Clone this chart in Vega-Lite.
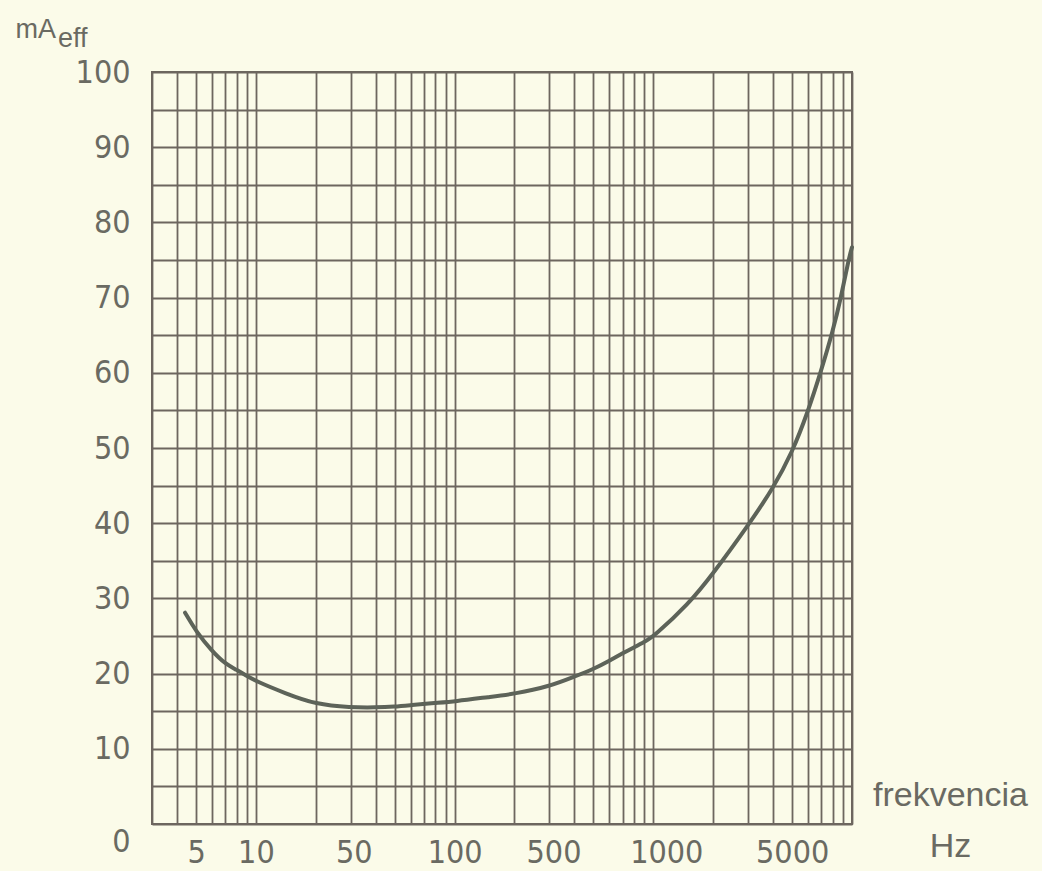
{
  "$schema": "https://vega.github.io/schema/vega-lite/v6.json",
  "autosize": "none",
  "width": 700,
  "height": 752,
  "padding": {"left": 152, "top": 72, "right": 190, "bottom": 47},
  "background": "#fbfbe9",
  "title": {
    "text": "eff",
    "anchor": "start",
    "frame": "group",
    "orient": "top",
    "offset": 0,
    "dx": -94,
    "dy": 59,
    "baseline": "alphabetic",
    "font": "Liberation Sans",
    "fontSize": 27,
    "fontWeight": "normal",
    "color": "#6a6a62"
  },
  "data": {
    "values": [
      {"freq": 4.4, "mA": 28.1},
      {"freq": 5, "mA": 25.6},
      {"freq": 6, "mA": 23.0},
      {"freq": 7, "mA": 21.3},
      {"freq": 8, "mA": 20.5},
      {"freq": 9, "mA": 19.7},
      {"freq": 10, "mA": 19.0},
      {"freq": 14, "mA": 17.4},
      {"freq": 20, "mA": 15.9},
      {"freq": 30, "mA": 15.5},
      {"freq": 40, "mA": 15.5},
      {"freq": 50, "mA": 15.6},
      {"freq": 60, "mA": 15.8},
      {"freq": 80, "mA": 16.1},
      {"freq": 100, "mA": 16.3},
      {"freq": 150, "mA": 16.9},
      {"freq": 200, "mA": 17.3},
      {"freq": 300, "mA": 18.3},
      {"freq": 400, "mA": 19.6},
      {"freq": 500, "mA": 20.6},
      {"freq": 600, "mA": 21.7},
      {"freq": 700, "mA": 22.7},
      {"freq": 800, "mA": 23.5},
      {"freq": 900, "mA": 24.2},
      {"freq": 1000, "mA": 24.9},
      {"freq": 1500, "mA": 29.2},
      {"freq": 2000, "mA": 33.3},
      {"freq": 3000, "mA": 39.7},
      {"freq": 4000, "mA": 44.6},
      {"freq": 5000, "mA": 49.4},
      {"freq": 6000, "mA": 54.8},
      {"freq": 7000, "mA": 60.3},
      {"freq": 8000, "mA": 65.5},
      {"freq": 8800, "mA": 70.0},
      {"freq": 9600, "mA": 75.0},
      {"freq": 10000, "mA": 76.7}
    ]
  },
  "mark": {"type": "line", "interpolate": "basis", "color": "#5d6359", "strokeWidth": 4, "strokeCap": "round"},
  "encoding": {
    "x": {
      "field": "freq",
      "type": "quantitative",
      "scale": {"type": "log", "domain": [3, 10000], "nice": false},
      "axis": {
        "values": [3, 4, 5, 6, 7, 8, 9, 10, 20, 30, 40, 50, 60, 70, 80, 90, 100, 200, 300, 400, 500, 600, 700, 800, 900, 1000, 2000, 3000, 4000, 5000, 6000, 7000, 8000, 9000, 10000],
        "grid": true,
        "gridColor": "#6d665f",
        "gridWidth": 1.8,
        "gridOpacity": 1,
        "ticks": false,
        "tickSize": 0,
        "domain": false,
        "labelExpr": "(datum.value === 5 || datum.value === 10 || datum.value === 50 || datum.value === 100 || datum.value === 500 || datum.value === 1000 || datum.value === 5000) ? format(datum.value, 'd') : ''",
        "labelOverlap": false,
        "labelFlush": false,
        "labelBound": false,
        "labelFont": "Liberation Sans Narrow, DejaVu Sans Condensed, sans-serif",
        "labelFontSize": 32,
        "labelColor": "#6a6a62",
        "labelBaseline": "alphabetic",
        "labelPadding": 38,
        "labelOffset": {
          "condition": [
            {"test": "datum.value === 50", "value": -41},
            {"test": "datum.value === 500", "value": -40},
            {"test": "datum.value === 1000", "value": 13}
          ],
          "value": 0
        },
        "title": ["frekvencia", "Hz"],
        "titleX": 798,
        "titleY": -19,
        "titleAlign": "center",
        "titleAnchor": "start",
        "titleBaseline": "alphabetic",
        "titleFont": "Liberation Sans",
        "titleFontSize": 34,
        "titleFontWeight": "normal",
        "titleColor": "#6a6a62",
        "titleLineHeight": 51
      }
    },
    "y": {
      "field": "mA",
      "type": "quantitative",
      "scale": {"domain": [0, 100], "nice": false},
      "axis": {
        "values": [0, 5, 10, 15, 20, 25, 30, 35, 40, 45, 50, 55, 60, 65, 70, 75, 80, 85, 90, 95, 100],
        "grid": true,
        "gridColor": "#6d665f",
        "gridWidth": 1.8,
        "gridOpacity": 1,
        "ticks": false,
        "tickSize": 0,
        "domain": false,
        "labelExpr": "datum.value % 10 === 0 ? datum.label : ''",
        "labelOverlap": false,
        "labelFlush": false,
        "labelBound": false,
        "labelFont": "Liberation Sans Narrow, DejaVu Sans Condensed, sans-serif",
        "labelFontSize": 32,
        "labelColor": "#6a6a62",
        "labelPadding": 22,
        "labelOffset": {"condition": {"test": "datum.value === 0", "value": 17}, "value": 0},
        "title": "mA",
        "titleAngle": 0,
        "titleX": -137,
        "titleY": -35,
        "titleAlign": "left",
        "titleAnchor": "start",
        "titleBaseline": "alphabetic",
        "titleFont": "Liberation Sans",
        "titleFontSize": 27,
        "titleFontWeight": "normal",
        "titleColor": "#6a6a62"
      }
    }
  },
  "config": {
    "view": {"stroke": "#6d665f", "strokeWidth": 2, "fill": "#fbfbe9"}
  }
}
